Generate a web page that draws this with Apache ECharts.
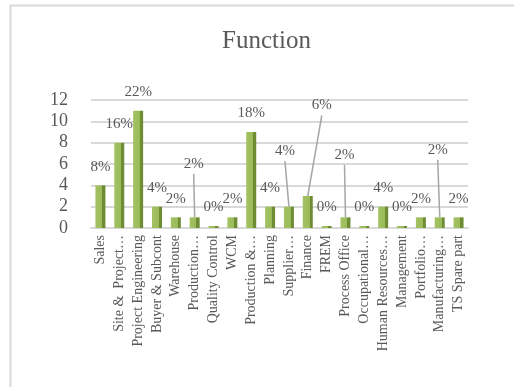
<!DOCTYPE html>
<html>
<head>
<meta charset="utf-8">
<script src="https://cdn.jsdelivr.net/npm/echarts@6/dist/echarts.min.js"></script>
<style>
  html, body { margin: 0; padding: 0; background: #fff; }
  #chart { width: 514px; height: 387px; }
</style>
</head>
<body>
<div id="chart"></div>
<script>
// Headcount by function
const categories = [
  'Sales', 'Site &  Project…', 'Project Engineering', 'Buyer & Subcont',
  'Warehouse', 'Production…', 'Quality Control', 'WCM', 'Production &…',
  'Planning', 'Supplier…', 'Finance', 'FREM', 'Process Office',
  'Occupational…', 'Human Resources…', 'Management', 'Portfolio…',
  'Manufacturing…', 'TS Spare part'
];
const counts = [4, 8, 11, 2, 1, 1, 0, 1, 9, 2, 2, 3, 0, 1, 0, 2, 0, 1, 1, 1];
const yMin = 0, yMax = 12, yStep = 2;

const total = counts.reduce((a, b) => a + b, 0);

// labels pulled away from their bars, joined back by a leader line: [dx, dy]
const calloutShift = {
  5: [-1, -35],
  10: [-4, -37],
  11: [14, -72],
  13: [-1, -44],
  18: [-2, -49]
};

const textColor = '#595959';
const serif = '"Liberation Serif", "Times New Roman", serif';
const labelDistance = 11;
const labelSize = 15;

const chart = echarts.init(document.getElementById('chart'), null, { renderer: 'canvas' });

chart.setOption({
  animation: false,
  backgroundColor: '#ffffff',
  title: {
    text: 'Function',
    left: 222,
    top: 29,
    padding: 0,
    textStyle: { fontFamily: serif, fontSize: 25, fontWeight: 'normal', color: textColor }
  },
  graphic: [{
    type: 'rect',
    shape: { x: 10.5, y: 5.5, width: 700, height: 600 },
    style: { fill: 'none', stroke: '#d9d9d9', lineWidth: 2 },
    silent: true,
    z: -1
  }],
  grid: { left: 91, top: 100, width: 377, height: 128, containLabel: false },
  xAxis: {
    type: 'category',
    data: categories,
    axisTick: { show: false },
    axisLine: { show: true, lineStyle: { color: '#d9d9d9', width: 2 } },
    axisLabel: {
      interval: 0,
      rotate: 90,
      margin: 7,
      fontFamily: serif,
      fontSize: 14,
      color: textColor
    }
  },
  yAxis: {
    type: 'value',
    min: yMin,
    max: yMax,
    interval: yStep,
    axisLine: { show: false },
    axisTick: { show: false },
    splitLine: { lineStyle: { color: '#d9d9d9', width: 2 } },
    axisLabel: { margin: 23, fontFamily: serif, fontSize: 18, color: textColor }
  },
  series: [{
    type: 'bar',
    barWidth: 10,
    barMinHeight: 2,
    data: counts,
    itemStyle: {
      color: {
        type: 'linear', x: 0, y: 0, x2: 1, y2: 0,
        colorStops: [
          { offset: 0, color: '#a3c263' },
          { offset: 0.68, color: '#9bbb59' },
          { offset: 0.68, color: '#6e8c34' },
          { offset: 1, color: '#6e8c34' }
        ]
      }
    },
    label: {
      show: true,
      position: 'top',
      distance: labelDistance,
      fontFamily: serif,
      fontSize: labelSize,
      color: textColor,
      formatter: p => Math.round(p.value / total * 100) + '%'
    },
    labelLayout: p => {
      const s = calloutShift[p.dataIndex];
      return s ? { dx: s[0], dy: s[1] } : {};
    }
  }, {
    // leader lines from the moved labels down to their bars
    type: 'custom',
    silent: true,
    z: 1,
    data: Object.keys(calloutShift).map(k => [Number(k), counts[Number(k)]]),
    renderItem: (params, api) => {
      const i = api.value(0);
      const top = api.coord([i, api.value(1)]);
      const s = calloutShift[i];
      const cx = top[0] + s[0];
      const cy = top[1] - labelDistance - labelSize / 2 + s[1];
      return {
        type: 'line',
        shape: { x1: cx, y1: cy + 10, x2: top[0], y2: top[1] },
        style: { stroke: '#a6a6a6', lineWidth: 1.5 }
      };
    }
  }]
});
</script>
</body>
</html>
